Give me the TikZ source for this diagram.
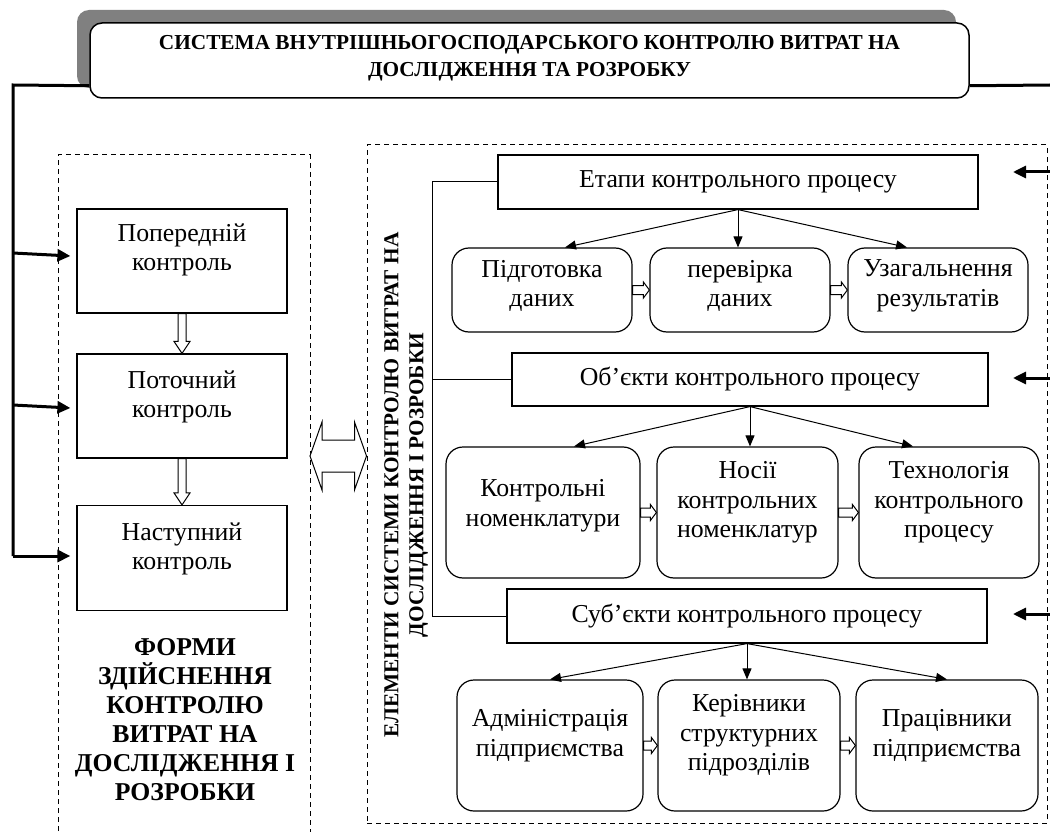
\documentclass[tikz,border=0pt]{standalone}
\usepackage{fontspec}
\setmainfont{Liberation Serif}
\usetikzlibrary{arrows.meta,calc}

\definecolor{shadowgray}{RGB}{128,128,128}

\tikzset{
  txt/.style={font=\fontsize{25.8}{29.5}\selectfont, align=center, inner sep=0},
  bigbold/.style={font=\bfseries\fontsize{25.7}{29}\selectfont, align=center, inner sep=0},
  headbold/.style={font=\bfseries\fontsize{21.3}{27}\selectfont, align=center, inner sep=0},
  sidebold/.style={font=\bfseries\fontsize{21.3}{25}\selectfont, align=center, inner sep=0},
  framebox/.style={draw, line width=1.2pt, inner sep=0},
  roundbox/.style={framebox, rounded corners=17pt},
  titlebox/.style={draw, line width=1.5pt, fill=white, rounded corners=12pt, inner sep=0},
  panel/.style={draw, dashed, line width=1pt, dash pattern=on 5pt off 4pt},
  bus/.style={line width=3pt},
  busarrow/.style={line width=3pt, -{Triangle[length=13pt,width=12pt]}},
  linkarrow/.style={line width=1pt, -{Triangle[length=11pt,width=9pt]}},
  link/.style={line width=1pt},
  hollow/.style={draw, line width=1pt, fill=white, line join=miter}
}

% hollow block arrows between two points
\newcommand\hollowright[2]{%
  \path[hollow] let \p1=#1, \p2=#2 in
    (\x1,\y1+4.5pt) -- (\x2-6pt,\y1+4.5pt) -- (\x2-6pt,\y1+8pt) -- (\x2,\y1)
    -- (\x2-6pt,\y1-8pt) -- (\x2-6pt,\y1-4.5pt) -- (\x1,\y1-4.5pt) -- cycle;}
\newcommand\hollowdown[2]{%
  \path[hollow] let \p1=#1, \p2=#2 in
    (\x1-4pt,\y1) -- (\x1-4pt,\y2+12pt) -- (\x1-8pt,\y2+12pt) -- (\x1,\y2)
    -- (\x1+8pt,\y2+12pt) -- (\x1+4pt,\y2+12pt) -- (\x1+4pt,\y1) -- cycle;}
\newcommand\hollowboth[2]{%
  \path[hollow] let \p1=#1, \p2=#2 in
    (\x1,\y1) -- (\x1+12pt,\y1+34pt) -- (\x1+12pt,\y1+16pt) -- (\x2-12pt,\y1+16pt)
    -- (\x2-12pt,\y1+34pt) -- (\x2,\y1) -- (\x2-12pt,\y1-34pt) -- (\x2-12pt,\y1-16pt)
    -- (\x1+12pt,\y1-16pt) -- (\x1+12pt,\y1-34pt) -- cycle;}

\begin{document}
\begin{tikzpicture}[x=1pt,y=-1pt]
\useasboundingbox (0,0) rectangle (1050,832);

% ---------- heading ----------
\fill[shadowgray, rounded corners=12pt] (77,10) rectangle (956,88);
\node[titlebox, minimum width=879pt, minimum height=75pt] (title) at (529.5,60.5) {};
\node[headbold] (titletext) at (529.5,58.5) {СИСТЕМА ВНУТРІШНЬОГОСПОДАРСЬКОГО КОНТРОЛЮ ВИТРАТ НА\\ДОСЛІДЖЕННЯ ТА РОЗРОБКУ};

% ---------- panels ----------
\draw[panel] (58,840) -- (58,155) -- (310,155) -- (310,840);
\coordinate (leftpanel) at (310,456);
\node[panel, minimum width=680pt, minimum height=678pt] (rp) at (707,484) {};

% ---------- forms of control ----------
\node[framebox, minimum width=210pt, minimum height=104pt] (p1) at (182,261) {};
\node[framebox, minimum width=210pt, minimum height=104pt] (p2) at (182,406) {};
\node[framebox, minimum width=210pt, minimum height=105pt] (p3) at (182,558) {};
\node[txt] at ([yshift=11pt]p1.center) {Попередній\\контроль};
\node[txt] at ([yshift=9pt]p2.center) {Поточний\\контроль};
\node[txt] at ([yshift=9pt]p3.center) {Наступний\\контроль};
\hollowdown{(p1.south)}{(p2.north)}
\hollowdown{(p2.south)}{(p3.north)}
\node[bigbold] (forms) at (185,720) {ФОРМИ\\ЗДІЙСНЕННЯ\\КОНТРОЛЮ\\ВИТРАТ НА\\ДОСЛІДЖЕННЯ І\\РОЗРОБКИ};

% ---------- bus lines ----------
\coordinate (bustop) at (13,85);
\coordinate (busend) at (13,556);
\coordinate (b1) at (13,253);
\coordinate (b2) at (13,405);
\draw[bus] ($(title.south west)+(0,-13)$) -- (bustop) -- (busend);
\draw[busarrow] (b1) -- ($(p1.west)+(-6,-5)$);
\draw[busarrow] (b2) -- ($(p2.west)+(-6,2)$);
\draw[busarrow] (busend) -- ($(p3.west)+(-6,-2)$);

\coordinate (re) at (1050,85);
\draw[bus] ($(title.south east)+(0,-13)$) -- (re);

% ---------- elements of the system ----------
\node[sidebold, rotate=90] (elements) at (406,485) {ЕЛЕМЕНТИ СИСТЕМИ КОНТРОЛЮ ВИТРАТ НА\\ДОСЛІДЖЕННЯ І РОЗРОБКИ};

\node[framebox, minimum width=480pt, minimum height=54pt] (e1) at (738,182) {};
\node[txt] at (e1) {Етапи контрольного процесу};
\node[framebox, minimum width=476pt, minimum height=53pt] (e2) at (750,379.5) {};
\node[txt] at (e2) {Об’єкти контрольного процесу};
\node[framebox, minimum width=480pt, minimum height=54pt] (e3) at (747,616) {};
\node[txt] at (e3) {Суб’єкти контрольного процесу};

% bracket joining the three groups
\draw[link] (e1.west) -- ++(-65,0) coordinate (brtop) |- (e3.west);
\draw[link] (brtop |- e2.west) -- (e2.west);

% stages
\node[roundbox, minimum width=180pt, minimum height=84pt] (s1) at (542,290) {};
\node[roundbox, minimum width=180pt, minimum height=84pt] (s2) at (740,290) {};
\node[roundbox, minimum width=180pt, minimum height=84pt] (s3) at (938,290) {};
\node[txt] at ([yshift=4pt]s1.center) {Підготовка\\даних};
\node[txt] at ([yshift=4pt]s2.center) {перевірка\\даних};
\node[txt] at ([yshift=4pt]s3.center) {Узагальнення\\результатів};
\draw[linkarrow] (e1.south) -- ($(s1.north)+(23,0)$);
\draw[linkarrow] (e1.south) -- (e1.south |- s2.north);
\draw[linkarrow] (e1.south) -- ($(s3.north)+(-31,0)$);
\hollowright{(s1.east)}{(s2.west)}
\hollowright{(s2.east)}{(s3.west)}

% objects
\node[roundbox, minimum width=194pt, minimum height=131pt] (o1) at (543,512.5) {};
\node[roundbox, minimum width=181pt, minimum height=131pt] (o2) at (747.5,512.5) {};
\node[roundbox, minimum width=180pt, minimum height=131pt] (o3) at (949,512.5) {};
\node[txt] at ([yshift=7pt]o1.center) {Контрольні\\номенклатури};
\node[txt] at ([yshift=10pt]o2.center) {Носії\\контрольних\\номенклатур};
\node[txt] at ([yshift=10pt]o3.center) {Технологія\\контрольного\\процесу};
\draw[linkarrow] (e2.south) -- ($(o1.north)+(31,0)$);
\draw[linkarrow] (e2.south) -- (e2.south |- o2.north);
\draw[linkarrow] (e2.south) -- ($(o3.north)+(-36,0)$);
\hollowright{(o1.east)}{(o2.west)}
\hollowright{(o2.east)}{(o3.west)}

% subjects
\node[roundbox, minimum width=186pt, minimum height=131pt] (u1) at (550,745.5) {};
\node[roundbox, minimum width=182pt, minimum height=131pt] (u2) at (749,745.5) {};
\node[roundbox, minimum width=182pt, minimum height=131pt] (u3) at (947,745.5) {};
\node[txt] at ([yshift=10pt]u1.center) {Адміністрація\\підприємства};
\node[txt] at ([yshift=10pt]u2.center) {Керівники\\структурних\\підрозділів};
\node[txt] at ([yshift=10pt]u3.center) {Працівники\\підприємства};
\draw[linkarrow] (e3.south) -- (u1.north);
\draw[linkarrow] (e3.south) -- (e3.south |- u2.north);
\draw[linkarrow] (e3.south) -- (u3.north);
\hollowright{(u1.east)}{(u2.west)}
\hollowright{(u2.east)}{(u3.west)}

% links from the right-hand bus
\coordinate (r1) at (1050,172);
\coordinate (r2) at (1050,378);
\coordinate (r3) at (1050,614);
\draw[busarrow] (r1) -- ++(-37,0);
\draw[busarrow] (r2) -- ++(-37,0);
\draw[busarrow] (r3) -- ++(-37,0);

% two-way link between the panels
\hollowboth{(leftpanel)}{(rp.west |- leftpanel)}
\end{tikzpicture}
\end{document}
